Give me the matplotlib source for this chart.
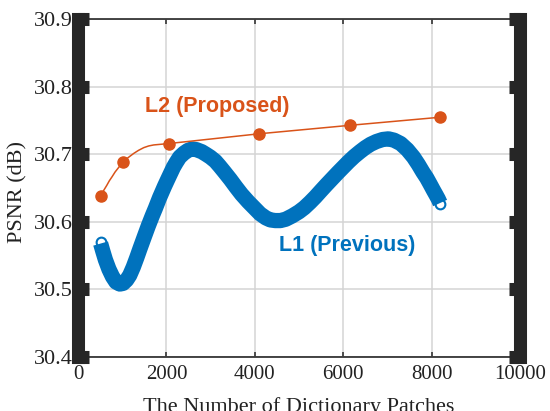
import matplotlib
matplotlib.use('Agg')
import matplotlib.pyplot as plt

# orange curve (L2), markers at the dictionary sizes
l2_x = [512, 1024, 2048, 4096, 6144, 8192]
l2_y = [30.639, 30.689, 30.716, 30.7305, 30.743, 30.755]
# points
l2_line_x = [512, 580, 650, 710, 772, 840, 900, 960, 1024, 1090, 1150, 1262, 1370, 1488,
             1600, 1714, 1880, 2048, 4096, 6144, 8192]
l2_line_y = [30.639, 30.6465, 30.654, 30.661, 30.667, 30.674, 30.679, 30.684, 30.689,
             30.693, 30.696, 30.7015, 30.706, 30.710, 30.7125, 30.714, 30.715, 30.716,
             30.7305, 30.743, 30.755]

# blue curve (L1), read along the centre of the thick line
l1_x = [512, 560, 620, 700, 780, 860, 945, 1020, 1100, 1170, 1250, 1330, 1400, 1500,
        1590, 1680, 1750, 1846, 1959, 2030, 2102, 2160, 2222, 2300, 2400, 2490, 2580,
        2680, 2800, 2900, 2994, 3107, 3200, 3300, 3446, 3570, 3700, 3850, 4000, 4120,
        4250, 4350, 4463, 4580, 4700, 4850, 5000, 5120, 5250, 5370, 5480, 5620, 5750,
        5880, 6000, 6120, 6250, 6380, 6500, 6620, 6750, 6890, 7024, 7150, 7300, 7450,
        7589, 7700, 7800, 7890, 7966, 8040, 8100, 8150, 8192]
l1_y = [30.568, 30.557, 30.544, 30.530, 30.519, 30.511, 30.508, 30.509, 30.514, 30.521,
        30.533, 30.547, 30.560, 30.578, 30.594, 30.609, 30.620, 30.636, 30.653, 30.663,
        30.673, 30.681, 30.688, 30.696, 30.702, 30.706, 30.708, 30.707, 30.704, 30.700,
        30.696, 30.690, 30.683, 30.675, 30.663, 30.652, 30.641, 30.630, 30.620, 30.612,
        30.606, 30.603, 30.602, 30.602, 30.604, 30.609, 30.615, 30.621, 30.629, 30.637,
        30.645, 30.655, 30.664, 30.673, 30.681, 30.689, 30.697, 30.704, 30.710, 30.715,
        30.719, 30.722, 30.723, 30.721, 30.716, 30.707, 30.696, 30.685, 30.674, 30.665,
        30.656, 30.647, 30.640, 30.634, 30.628]
l1_mark_x = [512, 8192]
l1_mark_y = [30.571, 30.626]

xticks = [0, 2000, 4000, 6000, 8000, 10000]
yticks = [30.4, 30.5, 30.6, 30.7, 30.8, 30.9]

blue = '#0072BD'
orange = '#D95319'
axcol = '#262626'

fig = plt.figure(figsize=(5.5, 4.11), dpi=100)
ax = fig.add_axes([0.1418, 0.1314, 0.8037, 0.8216])

ax.plot(l1_mark_x, l1_mark_y, 'o', ms=7, mfc='white', mec=blue, mew=1.5, zorder=3)
ax.plot(l1_x, l1_y, color=blue, lw=11, solid_capstyle='butt', solid_joinstyle='round', zorder=4)
ax.plot(l2_line_x, l2_line_y, color=orange, lw=1.1, zorder=5)
ax.plot(l2_x, l2_y, 'o', color=orange, ms=8, zorder=6)

ax.text(1525, 30.7716, 'L2 (Proposed)', color=orange, fontsize=15.5, fontweight='bold',
        family='Liberation Sans', ha='left', va='center')
ax.text(4554, 30.5655, 'L1 (Previous)', color=blue, fontsize=15.5, fontweight='bold',
        family='Liberation Sans', ha='left', va='center')

ax.set_xlim(0, 10000)
ax.set_ylim(30.4, 30.9)
ax.set_xticks(xticks)
ax.set_yticks(yticks)
ax.set_yticklabels(['%.1f' % v for v in yticks])
ax.grid(True, color='#d4d4d4', lw=1.1)
ax.set_axisbelow(True)

for s in ['left', 'right']:
    ax.spines[s].set_linewidth(9.4)
    ax.spines[s].set_color(axcol)
for s in ['top', 'bottom']:
    ax.spines[s].set_linewidth(1.2)
    ax.spines[s].set_color(axcol)

ax.tick_params(axis='y', direction='in', left=True, right=True, width=9.4, length=8.2,
               color=axcol, labelsize=16, pad=4)
ax.tick_params(axis='x', direction='in', top=True, bottom=True, width=1.1, length=3.6,
               color=axcol, labelsize=15, pad=6)
for lab in ax.get_xticklabels() + ax.get_yticklabels():
    lab.set_family('Liberation Serif')
    lab.set_color('#222222')

ax.set_xlabel('The Number of Dictionary Patches', family='Liberation Serif', fontsize=16,
              color='#222222')
ax.set_ylabel('PSNR (dB)', family='Liberation Serif', fontsize=16, color='#222222')
ax.xaxis.set_label_coords(0.5, -0.12)
ax.yaxis.set_label_coords(-0.115, 0.49)

fig.savefig('out.png', dpi=100)
